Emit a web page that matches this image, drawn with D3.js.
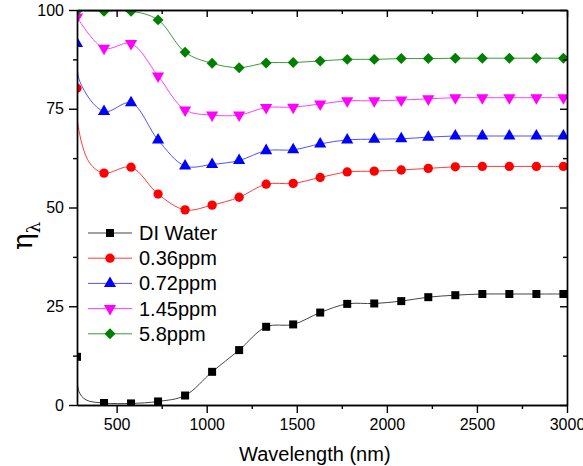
<!DOCTYPE html>
<html>
<head>
<meta charset="UTF-8">
<script src="https://cdnjs.cloudflare.com/ajax/libs/d3/7.8.5/d3.min.js"></script>
<style>
  body { margin: 0; background: #fff; }
  svg { display: block; }
  text { font-family: "Liberation Sans", Arial, sans-serif; fill: #000; }
  .axis path, .axis line { stroke: #000; stroke-width: 1.4px; }
</style>
</head>
<body>
<svg width="583" height="466"></svg>
<script>
// wavelengths of the marked points (nm)
const wavelengths = [280, 430, 580, 730, 880, 1030, 1180, 1330, 1480, 1630,
                     1780, 1930, 2080, 2230, 2380, 2530, 2680, 2830, 2980];

const seriesNames = ["DI Water", "0.36ppm", "0.72ppm", "1.45ppm", "5.8ppm"];
const seriesColors = ["#000000", "#ff0000", "#0000ff", "#ff00ff", "#008000"];
const lineColors = ["#444444", "#ff3b3b", "#5050ff", "#ff40ff", "#3a9a3a"];

const diWater = [12.2, 0.5, 0.4, 0.9, 2.4, 8.4, 13.9, 19.8, 20.4, 23.4,
                 25.6, 25.7, 26.3, 27.3, 27.8, 28.1, 28.1, 28.1, 28.1];
const ppm036 = [80.2, 58.7, 60.2, 53.4, 49.4, 50.6, 52.6, 55.9, 56.1, 57.6,
                59.0, 59.2, 59.5, 59.9, 60.3, 60.4, 60.4, 60.4, 60.4];
const ppm072 = [91.5, 74.3, 76.5, 67.1, 60.5, 60.9, 61.9, 64.4, 64.6, 66.1,
                67.1, 67.3, 67.4, 67.8, 68.1, 68.1, 68.1, 68.1, 68.1];
const ppm145 = [98.2, 90.3, 91.5, 83.3, 74.7, 73.4, 73.4, 75.3, 75.4, 76.2,
                77.0, 77.0, 77.2, 77.5, 77.8, 77.8, 77.8, 77.8, 77.8];
const ppm58 = [99.8, 99.7, 99.7, 97.5, 89.3, 86.5, 85.4, 86.6, 86.7, 87.1,
               87.5, 87.5, 87.7, 87.7, 87.8, 87.8, 87.8, 87.8, 87.8];

// extra unmarked points of the measured curves near the short-wave edge
const diWaterEdge = [[290, 3.5], [330, 1.3]];
const ppm036Edge = [[285, 71.0], [350, 61.3]];
const ppm072Edge = [[295, 82.0]];
const ppm145Edge = [];
const ppm58Edge = [];

const allValues = [diWater, ppm036, ppm072, ppm145, ppm58];
const allEdges = [diWaterEdge, ppm036Edge, ppm072Edge, ppm145Edge, ppm58Edge];
const markerShapes = ["square", "circle", "triangle", "triangleDown", "diamond"];

const xTicks = [500, 1000, 1500, 2000, 2500, 3000];
const xMinor = [750, 1250, 1750, 2250, 2750];
const yTicks = [0, 25, 50, 75, 100];
const yMinor = [12.5, 37.5, 62.5, 87.5];

const W = 583, H = 466;
const margin = {top: 10, right: 16, bottom: 61, left: 77};
const iw = W - margin.left - margin.right;
const ih = H - margin.top - margin.bottom;

const svg = d3.select("svg");
const g = svg.append("g").attr("transform", `translate(${margin.left},${margin.top})`);

const x = d3.scaleLinear().domain([280, 3000]).range([0, iw]);
const y = d3.scaleLinear().domain([0, 100]).range([ih, 0]);

svg.append("defs").append("clipPath").attr("id", "plotclip")
  .append("rect").attr("width", iw).attr("height", ih);

const symbolOf = {
  square: d3.symbol().type(d3.symbolSquare).size(64),
  circle: d3.symbol().type(d3.symbolCircle).size(68),
  triangle: d3.symbol().type(d3.symbolTriangle).size(64),
  triangleDown: d3.symbol().type(d3.symbolTriangle).size(64),
  diamond: d3.symbol().type(d3.symbolSquare).size(60)
};
function markerTransform(shape, px, py) {
  if (shape === "triangleDown") return `translate(${px},${py}) rotate(180)`;
  if (shape === "diamond") return `translate(${px},${py}) rotate(45)`;
  return `translate(${px},${py})`;
}

const series = seriesNames.map((name, i) => {
  const pts = wavelengths.map((w, j) => [w, allValues[i][j]]);
  const linePts = pts.slice(0, 1).concat(allEdges[i], pts.slice(1));
  return {name, color: seriesColors[i], lineColor: lineColors[i], shape: markerShapes[i], pts, linePts};
});

const plot = g.append("g").attr("clip-path", "url(#plotclip)");
const line = d3.line()
  .x(d => x(d[0])).y(d => y(d[1]))
  .curve(d3.curveCatmullRom.alpha(0.5));

series.forEach(s => {
  plot.append("path")
    .attr("d", line(s.linePts))
    .attr("fill", "none")
    .attr("stroke", s.lineColor)
    .attr("stroke-width", 1);
});
series.forEach(s => {
  plot.selectAll(null).data(s.pts).enter().append("path")
    .attr("d", symbolOf[s.shape]())
    .attr("transform", d => markerTransform(s.shape, x(d[0]), y(d[1])))
    .attr("fill", s.color);
});

// axes
const tickFont = "16px";
const fmt = d3.format("d");
const bottom = g.append("g").attr("class", "axis").attr("transform", `translate(0,${ih})`)
  .call(d3.axisBottom(x).tickValues(xTicks).tickFormat(fmt).tickSize(8).tickPadding(6).tickSizeOuter(0));
g.append("g").attr("class", "axis").attr("transform", `translate(0,${ih})`)
  .call(d3.axisBottom(x).tickValues(xMinor).tickSize(4).tickFormat("").tickSizeOuter(0));
const left = g.append("g").attr("class", "axis")
  .call(d3.axisLeft(y).tickValues(yTicks).tickFormat(fmt).tickSize(8).tickPadding(5).tickSizeOuter(0));
g.append("g").attr("class", "axis")
  .call(d3.axisLeft(y).tickValues(yMinor).tickSize(4).tickFormat("").tickSizeOuter(0));
g.append("g").attr("class", "axis")
  .call(d3.axisTop(x).tickValues(xTicks).tickSize(-7).tickFormat("").tickSizeOuter(0));
g.append("g").attr("class", "axis")
  .call(d3.axisTop(x).tickValues(xMinor).tickSize(-4).tickFormat("").tickSizeOuter(0));
g.append("g").attr("class", "axis").attr("transform", `translate(${iw},0)`)
  .call(d3.axisRight(y).tickValues(yTicks).tickSize(-7).tickFormat("").tickSizeOuter(0));
g.append("g").attr("class", "axis").attr("transform", `translate(${iw},0)`)
  .call(d3.axisRight(y).tickValues(yMinor).tickSize(-4).tickFormat("").tickSizeOuter(0));
[bottom, left].forEach(a => a.selectAll("text").style("font-size", tickFont));

g.append("text")
  .attr("x", x(1600)).attr("y", ih + 56)
  .attr("text-anchor", "middle")
  .style("font-size", "20px")
  .text("Wavelength (nm)");

const ylab = svg.append("text")
  .attr("transform", "translate(32,250) rotate(-90)")
  .style("font-family", "'DejaVu Serif', serif")
  .style("font-size", "28px");
ylab.append("tspan").text("η");
ylab.append("tspan").attr("dy", 8).style("font-size", "18px").text("λ");

// legend
const legend = g.append("g").attr("transform", `translate(11,${233 - margin.top})`);
series.forEach((s, i) => {
  const row = legend.append("g").attr("transform", `translate(0,${i * 25.2})`);
  row.append("line").attr("x1", 0).attr("x2", 44).attr("stroke", s.lineColor).attr("stroke-width", 1);
  row.append("path").attr("d", symbolOf[s.shape]()).attr("fill", s.color)
    .attr("transform", markerTransform(s.shape, 22, 0));
  row.append("text").attr("x", 51).attr("y", 7).style("font-size", "20px").text(s.name);
});
</script>
</body>
</html>
